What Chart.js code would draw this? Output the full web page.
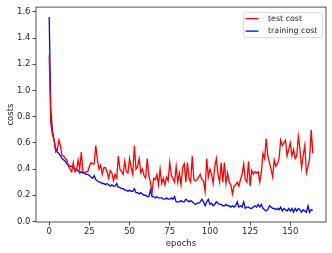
<!DOCTYPE html>
<html lang="en">
<head>
  <meta charset="UTF-8">
  <title>costs</title>
  <script src="https://cdn.jsdelivr.net/npm/chart.js"></script>
  <style>
    html, body { margin: 0; padding: 0; background: #fff; }
    #wrap { width: 332px; height: 253px; }
  </style>
</head>
<body>
  <div id="wrap"><canvas id="costChart" width="332" height="253"></canvas></div>

  <script>
    // values, one per epoch (0..164)
    const testCost = [
      1.27, 0.75, 0.66, 0.63, 0.53, 0.54, 0.62, 0.58, 0.50, 0.50,
      0.48, 0.47, 0.42, 0.40, 0.38, 0.45, 0.38, 0.39, 0.47, 0.40,
      0.53, 0.38, 0.37, 0.38, 0.38, 0.42, 0.45, 0.44, 0.44, 0.58,
      0.47, 0.40, 0.43, 0.36, 0.41, 0.41, 0.38, 0.33, 0.39, 0.37,
      0.31, 0.36, 0.33, 0.50, 0.40, 0.38, 0.36, 0.46, 0.38, 0.37,
      0.48, 0.41, 0.36, 0.58, 0.40, 0.42, 0.48, 0.37, 0.40, 0.35,
      0.33, 0.48, 0.35, 0.30, 0.22, 0.33, 0.32, 0.36, 0.28, 0.40,
      0.29, 0.33, 0.28, 0.34, 0.31, 0.45, 0.35, 0.33, 0.30, 0.42,
      0.30, 0.37, 0.28, 0.41, 0.44, 0.30, 0.45, 0.33, 0.30, 0.50,
      0.32, 0.31, 0.32, 0.34, 0.36, 0.32, 0.31, 0.23, 0.48, 0.34,
      0.40, 0.36, 0.29, 0.42, 0.48, 0.36, 0.30, 0.45, 0.30, 0.45,
      0.29, 0.37, 0.30, 0.28, 0.21, 0.27, 0.28, 0.30, 0.27, 0.32,
      0.36, 0.44, 0.32, 0.30, 0.46, 0.27, 0.39, 0.36, 0.38, 0.37,
      0.38, 0.30, 0.38, 0.52, 0.48, 0.63, 0.50, 0.45, 0.40, 0.34,
      0.47, 0.42, 0.44, 0.48, 0.62, 0.58, 0.60, 0.62, 0.50, 0.55,
      0.60, 0.50, 0.55, 0.48, 0.50, 0.65, 0.55, 0.41, 0.50, 0.58,
      0.37, 0.42, 0.48, 0.70, 0.52
    ]
    const trainingCost = [
      1.56, 0.85, 0.70, 0.62, 0.56, 0.53, 0.52, 0.50, 0.48, 0.47,
      0.46, 0.44, 0.43, 0.42, 0.42, 0.41, 0.40, 0.40, 0.39, 0.37,
      0.38, 0.37, 0.37, 0.36, 0.36, 0.35, 0.34, 0.33, 0.35, 0.32,
      0.31, 0.30, 0.30, 0.29, 0.29, 0.28, 0.29, 0.28, 0.27, 0.28,
      0.27, 0.27, 0.29, 0.26, 0.26, 0.25, 0.25, 0.24, 0.24, 0.23,
      0.24, 0.23, 0.23, 0.25, 0.22, 0.22, 0.21, 0.22, 0.21, 0.20,
      0.20, 0.19, 0.19, 0.24, 0.19, 0.19, 0.18, 0.19, 0.18, 0.18,
      0.18, 0.17, 0.17, 0.18, 0.17, 0.17, 0.18, 0.17, 0.19, 0.15,
      0.15, 0.15, 0.16, 0.15, 0.15, 0.17, 0.16, 0.15, 0.16, 0.15,
      0.14, 0.13, 0.14, 0.14, 0.15, 0.17, 0.15, 0.12, 0.15, 0.17,
      0.13, 0.14, 0.12, 0.13, 0.15, 0.14, 0.13, 0.13, 0.12, 0.12,
      0.13, 0.12, 0.12, 0.11, 0.12, 0.11, 0.12, 0.15, 0.11, 0.12,
      0.11, 0.15, 0.10, 0.11, 0.11, 0.10, 0.10, 0.11, 0.12, 0.11,
      0.13, 0.11, 0.13, 0.10, 0.09, 0.08, 0.09, 0.12, 0.11, 0.10,
      0.10, 0.09, 0.10, 0.09, 0.11, 0.08, 0.10, 0.09, 0.08, 0.10,
      0.08, 0.10, 0.07, 0.10, 0.08, 0.10, 0.09, 0.07, 0.09, 0.08,
      0.07, 0.12, 0.07, 0.09, 0.085
    ]
    const epochs = testCost.map((v, i) => i)
    const xTicks = [0, 25, 50, 75, 100, 125, 150]
    const yTicks = [0, 0.2, 0.4, 0.6, 0.8, 1.0, 1.2, 1.4, 1.6]
    const seriesNames = ['test cost', 'training cost']
    const seriesColors = ['#ff0000', '#0000ff']

    const tickFont = { family: 'DejaVu Sans', size: 8.5 }
    const ink = '#262626'

    // matplotlib style frame + legend box in the upper right
    const framePlugin = {
      id: 'frame',
      afterDraw(chart) {
        const ctx = chart.ctx
        const a = chart.chartArea
        ctx.save()
        ctx.strokeStyle = ink
        ctx.lineWidth = 0.8
        ctx.strokeRect(a.left, a.top, a.right - a.left, a.bottom - a.top)

        // legend
        const bx = a.right - 83, by = a.top + 5, bw = 79, bh = 25
        ctx.fillStyle = 'rgba(255,255,255,0.8)'
        ctx.strokeStyle = '#d0d0d0'
        ctx.lineWidth = 0.8
        ctx.beginPath()
        ctx.roundRect(bx + 0.5, by + 0.5, bw, bh, 2)
        ctx.fill()
        ctx.stroke()
        ctx.font = '7.9px "DejaVu Sans"'
        ctx.textBaseline = 'middle'
        chart.data.datasets.forEach((ds, i) => {
          const y = by + 6.5 + i * 12.5
          ctx.strokeStyle = ds.borderColor
          ctx.lineWidth = 1.3
          ctx.beginPath()
          ctx.moveTo(bx + 2.5, y)
          ctx.lineTo(bx + 15.5, y)
          ctx.stroke()
          ctx.fillStyle = ink
          ctx.fillText(ds.label, bx + 25, y)
        })
        ctx.restore()
      }
    }

    const datasets = [testCost, trainingCost].map((vals, i) => ({
      label: seriesNames[i],
      data: vals.map((v, j) => ({ x: epochs[j], y: v })),
      borderColor: seriesColors[i],
      borderWidth: 1.3,
      pointRadius: 0,
      tension: 0,
      fill: false
    }))

    const config = {
      type: 'line',
      data: { datasets: datasets },
      options: {
        responsive: false,
        animation: false,
        devicePixelRatio: 1,
        layout: { padding: { top: 5, right: 6, left: 0, bottom: 0 } },
        plugins: { legend: { display: false }, tooltip: { enabled: false } },
        scales: {
          x: {
            type: 'linear',
            min: -8.2,
            max: 172.2,
            afterBuildTicks: s => { s.ticks = xTicks.map(v => ({ value: v })) },
            afterFit: s => { s.height = 31 },
            grid: { drawOnChartArea: false, tickLength: 3.5, color: ink, lineWidth: 0.8 },
            border: { display: false },
            ticks: { color: ink, font: tickFont, padding: 1.5, maxRotation: 0,
                     callback: v => String(v) },
            title: { display: true, text: 'epochs', color: ink, font: tickFont,
                     padding: { top: 0, bottom: 4.5 } }
          },
          y: {
            type: 'linear',
            min: -0.004,
            max: 1.636,
            afterBuildTicks: s => { s.ticks = yTicks.map(v => ({ value: v })) },
            afterFit: s => { s.width = 36 },
            grid: { drawOnChartArea: false, tickLength: 3.5, color: ink, lineWidth: 0.8 },
            border: { display: false },
            ticks: { color: ink, font: tickFont, padding: 2,
                     callback: v => v.toFixed(1) },
            title: { display: true, text: 'costs', color: ink, font: tickFont,
                     padding: { top: 5.5, bottom: 0 } }
          }
        }
      },
      plugins: [framePlugin]
    }

    const costChart = new Chart(document.getElementById('costChart'), config)
  </script>
</body>
</html>
